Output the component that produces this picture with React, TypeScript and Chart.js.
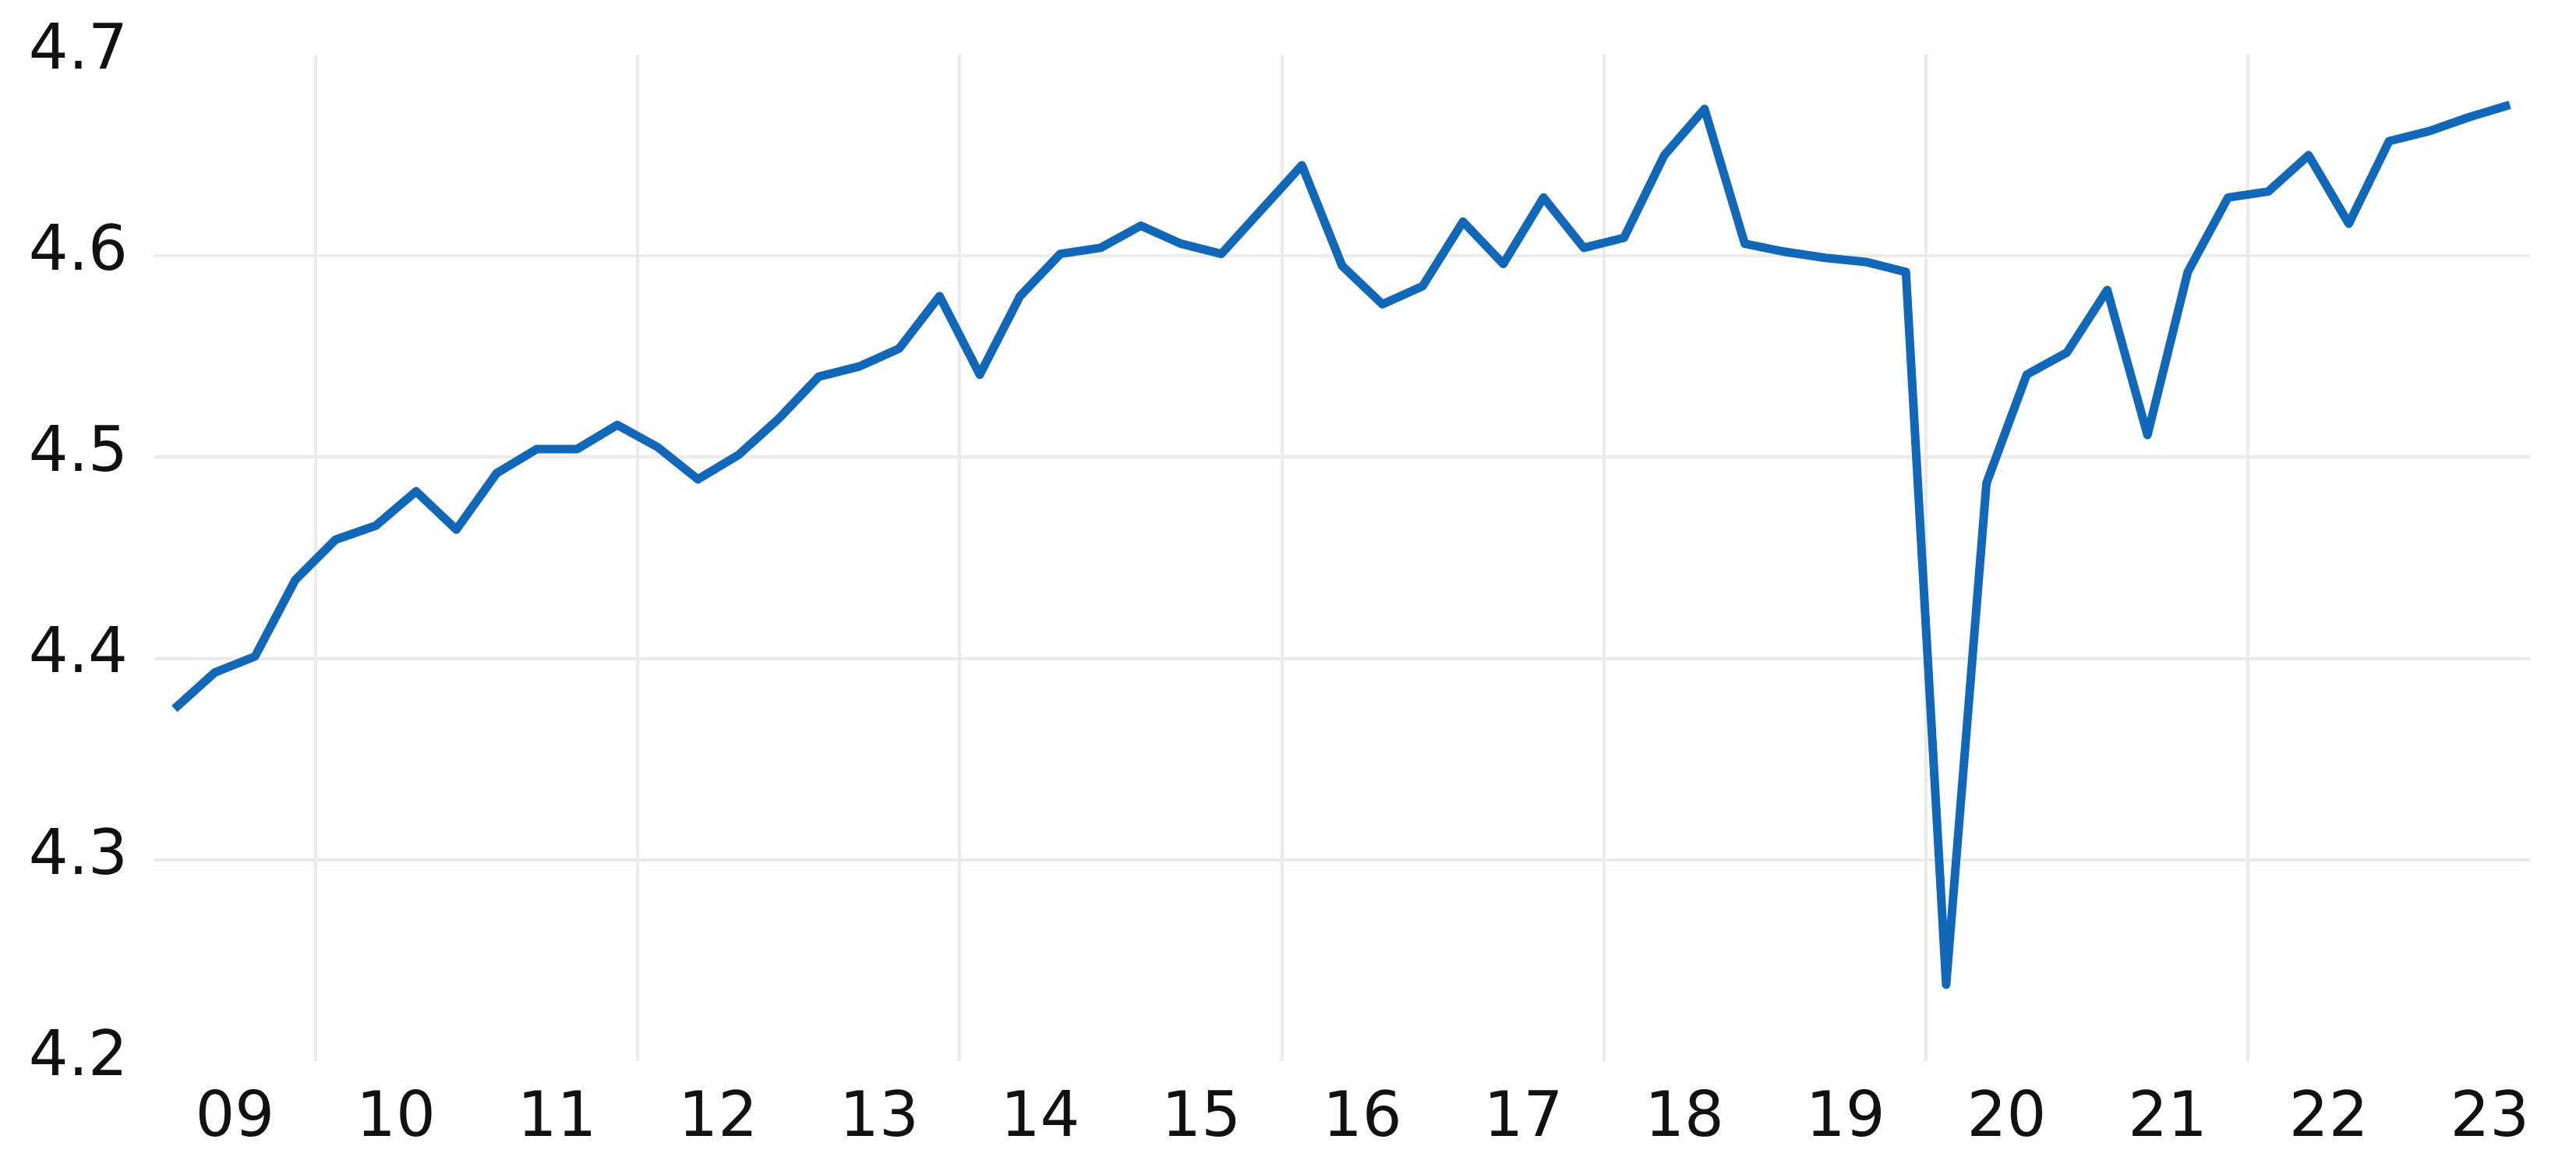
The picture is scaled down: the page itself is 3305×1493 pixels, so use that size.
import React, { useEffect, useRef } from "react";
import { Chart, registerables } from "chart.js";

Chart.register(...registerables);

// Quarterly series, 2009Q1 .. 2023Q3
const quarters: string[] = [];
for (let y = 2009; y <= 2023; y++) {
  for (let q = 1; q <= 4; q++) {
    if (y === 2023 && q === 4) break;
    quarters.push(`${y}Q${q}`);
  }
}

const values: number[] = [
  4.375, 4.393, 4.401, 4.439,
  4.459, 4.466, 4.483, 4.464,
  4.492, 4.504, 4.504, 4.516,
  4.505, 4.489, 4.501, 4.519,
  4.540, 4.545, 4.554, 4.580,
  4.541, 4.580, 4.601, 4.604,
  4.615, 4.606, 4.601, 4.623,
  4.645, 4.595, 4.576, 4.585,
  4.617, 4.596, 4.629, 4.604,
  4.609, 4.650, 4.673, 4.606,
  4.602, 4.599, 4.597, 4.592,
  4.238, 4.487, 4.541, 4.552,
  4.583, 4.511, 4.592, 4.629,
  4.632, 4.650, 4.616, 4.657,
  4.662, 4.669, 4.675,
];

const yearLabels: string[] = ["09", "10", "11", "12", "13", "14", "15", "16", "17", "18", "19", "20", "21", "22", "23"];
const gridYears: number[] = [2010, 2012, 2014, 2016, 2018, 2020, 2022];
const yTicks: number[] = [4.2, 4.3, 4.4, 4.5, 4.6, 4.7];

const START_YEAR = 2009;

function quarterPos(label: string): number {
  const y = parseInt(label.slice(0, 4), 10);
  const q = parseInt(label.slice(5), 10);
  return y + (q - 0.5) / 4;
}

export default function App() {
  const ref = useRef<HTMLCanvasElement | null>(null);

  useEffect(() => {
    if (!ref.current) return;
    const font = { family: "'DejaVu Sans', sans-serif", size: 80 };
    const xMax = START_YEAR + quarters.length / 4;
    const xTickValues = [
      ...yearLabels.map((_, i) => START_YEAR + i + 0.5),
      ...gridYears,
    ].sort((a, b) => a - b);
    const gridColor = "#ebebeb";

    const chart = new Chart(ref.current, {
      type: "line",
      data: {
        datasets: [
          {
            data: quarters.map((q, i) => ({ x: quarterPos(q), y: values[i] })),
            borderColor: "#1268b8",
            borderWidth: 11,
            pointRadius: 0,
            tension: 0,
            borderJoinStyle: "round",
            fill: false,
          },
        ],
      },
      options: {
        animation: false,
        responsive: false,
        maintainAspectRatio: false,
        layout: { padding: { top: 70, right: 59, bottom: 0, left: 0 } },
        plugins: { legend: { display: false }, tooltip: { enabled: false } },
        scales: {
          x: {
            type: "linear",
            min: START_YEAR,
            max: xMax,
            afterBuildTicks: (scale: any) => {
              scale.ticks = xTickValues.map((v) => ({ value: v }));
            },
            afterFit: (scale: any) => {
              scale.height = 1493 - 1361;
              scale.paddingLeft = 0;
              scale.paddingRight = 0;
            },
            border: { display: false },
            grid: {
              drawTicks: false,
              lineWidth: 4,
              color: (ctx: any) => {
                const v = ctx.tick ? ctx.tick.value : 0;
                return gridYears.some((g) => Math.abs(g - v) < 1e-6) ? gridColor : "rgba(0,0,0,0)";
              },
            },
            ticks: {
              autoSkip: false,
              maxRotation: 0,
              padding: 27,
              color: "#111",
              font,
              callback: (value: any) => {
                const v = Number(value);
                const frac = v - Math.floor(v);
                if (Math.abs(frac - 0.5) < 1e-6) {
                  const idx = Math.floor(v) - START_YEAR;
                  return yearLabels[idx] ?? "";
                }
                return "";
              },
            },
          },
          y: {
            type: "linear",
            min: yTicks[0],
            max: yTicks[yTicks.length - 1],
            afterBuildTicks: (scale: any) => {
              scale.ticks = yTicks.map((v) => ({ value: v }));
            },
            afterFit: (scale: any) => {
              scale.width = 198;
              scale.paddingTop = 0;
              scale.paddingBottom = 0;
            },
            border: { display: false },
            grid: {
              drawTicks: false,
              lineWidth: 4,
              color: (ctx: any) => {
                const v = ctx.tick ? ctx.tick.value : 0;
                return v > 4.21 && v < 4.69 ? gridColor : "rgba(0,0,0,0)";
              },
            },
            ticks: {
              padding: 34,
              labelOffset: -3,
              color: "#111",
              font,
              callback: (value: any) => Number(value).toFixed(1),
            },
          },
        },
      },
    });
    return () => chart.destroy();
  }, []);

  return (
    <div style={{ position: "absolute", left: 0, top: 0, width: 3305, height: 1493, background: "#fff" }}>
      <canvas ref={ref} width={3305} height={1493} style={{ display: "block" }} />
    </div>
  );
}
